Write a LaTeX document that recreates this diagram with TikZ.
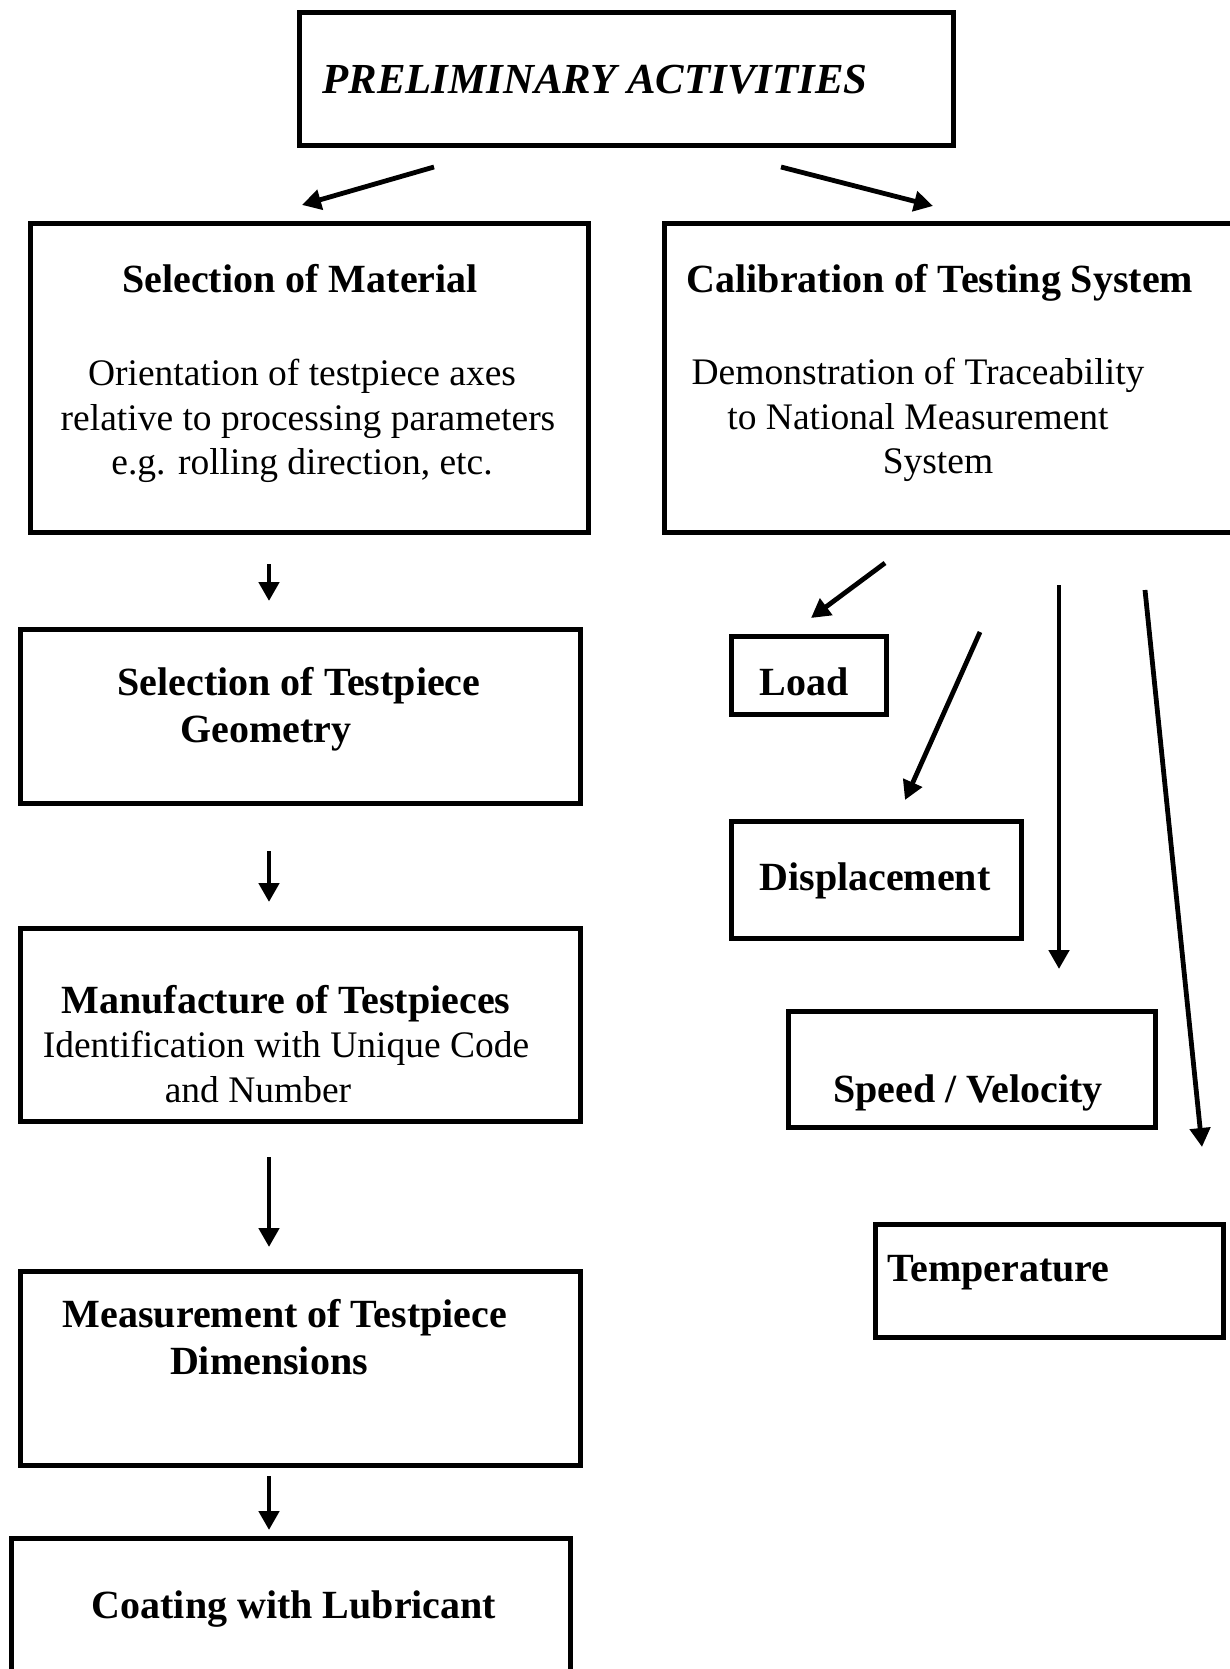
\documentclass[tikz,border=0pt]{standalone}
\usepackage{fontspec}
\setmainfont{Liberation Serif}
\usetikzlibrary{arrows.meta,positioning,fit}

\begin{document}
\begin{tikzpicture}[
		x=0.5pt,
		y=-0.5pt,
		box/.style={draw=black, line width=2.5pt, inner sep=0pt, outer sep=0pt},
		flow/.style={draw=black, line width=2.4pt, -{Triangle[length=9.5pt,width=10pt]}},
		head/.style={font=\fontsize{20}{23.5}\selectfont\bfseries, inner sep=0pt, align=center},
		body/.style={font=\fontsize{18.75}{22.4}\selectfont, inner sep=0pt, align=center}
		]
		
		% page frame
		\useasboundingbox (0,0) rectangle (1230,1669);
		
		% boxes, left column
		\node[box, fit={(299,13) (953,146)}]    (prelim)   {};
		\node[box, fit={(30,224) (588,532)}]    (material) {};
		\node[box, fit={(20,629) (580,803)}]    (geom)     {};
		\node[box, fit={(20,928) (580,1121)}]   (manuf)    {};
		\node[box, fit={(20,1271) (580,1465)}]  (measure)  {};
		\node[box, fit={(11,1538) (570,1690)}]  (coat)     {};
		
		% boxes, right column
		\node[box, fit={(664,224) (1250,532)}]  (calib)    {};
		\node[box, fit={(731,636) (886,714)}]   (load)     {};
		\node[box, fit={(731,821) (1021,938)}]  (displ)    {};
		\node[box, fit={(788,1011) (1155,1127)}] (speed)   {};
		\node[box, fit={(875,1224) (1223,1337)}] (temp)    {};
		
		% texts
		\node[head, anchor=west, font=\fontsize{21.4}{25}\selectfont\bfseries\itshape] (prelim-t) at (322,80) {PRELIMINARY ACTIVITIES};
		
		\node[head] (material-t) at (300,279) {Selection of Material};
		\node[body] (orient-t) at (302,421) {Orientation of testpiece axes\\\hspace*{6pt}relative to processing parameters\\e.g. rolling direction, etc.};
		
		\node[head] (calib-t) at (940,283) {Calibration of Testing System};
		\node[body] (demo-t) at (918,420) {Demonstration of Traceability\\to National Measurement\\\hspace*{20pt}System};
		
		\node[head] (geom-t) at (299,709) {Selection of Testpiece\\Geometry\hspace*{33pt}};
		\node[body] (manuf-t) at (286,1044) {\textbf{\fontsize{20}{23}\selectfont Manufacture of Testpieces}\\Identification with Unique Code\\and Number\hspace*{28pt}};
		\node[head] (measure-t) at (285,1337) {Measurement of Testpiece\\Dimensions\hspace*{16pt}};
		\node[head] (coat-t) at (294,1609) {Coating with Lubricant};
		
		\node[head] (load-t) at (804,682) {Load};
		\node[head] (displ-t) at (875,881) {Displacement};
		\node[head] (speed-t) at (968,1093) {Speed / Velocity};
		\node[head, anchor=west] (temp-t) at (887,1273) {Temperature};
		
		% arrow ends
		\coordinate (a1) at (434,167);  \coordinate (b1) at (302,205);
		\coordinate (a2) at (781,167);  \coordinate (b2) at (933,206);
		\coordinate (a3) at (269,564);  \coordinate (b3) at (269,601);
		\coordinate (a4) at (269,851);  \coordinate (b4) at (269,902);
		\coordinate (a5) at (269,1157); \coordinate (b5) at (269,1247);
		\coordinate (a6) at (269,1476); \coordinate (b6) at (269,1530);
		\coordinate (a7) at (885,563);  \coordinate (b7) at (811,618);
		\coordinate (a8) at (980,632);  \coordinate (b8) at (905,800);
		\coordinate (a9) at (1059,585); \coordinate (b9) at (1059,969);
		\coordinate (a10) at (1145,590); \coordinate (b10) at (1202,1147);
		
		% arrows
		\foreach \i in {1,...,10}
		\draw[flow] (a\i) -- (b\i);
\end{tikzpicture}
\end{document}
